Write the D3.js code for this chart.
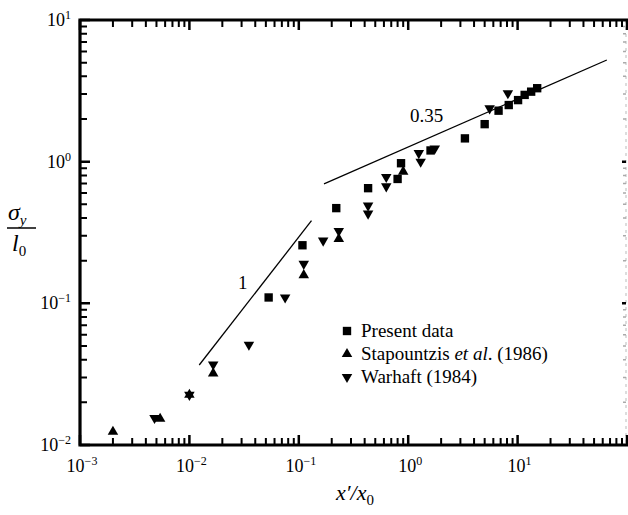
<!DOCTYPE html>
<html>
<head>
<meta charset="utf-8">
<script src="https://cdn.jsdelivr.net/npm/d3@7"></script>
<style>
  body { margin: 0; background: #fff; }
  svg, svg text, svg tspan { font-family: "Liberation Serif", "Times New Roman", serif !important; }
</style>
</head>
<body>
<div id="chart"></div>
<script>
// present data (squares)
var presentX = [0.053, 0.108, 0.22, 0.43, 0.80, 0.86, 1.6, 3.3, 5.0, 6.7, 8.3, 10.1, 11.6, 13.3, 15.1];
var presentY = [0.11, 0.257, 0.47, 0.65, 0.755, 0.975, 1.2, 1.46, 1.84, 2.29, 2.51, 2.72, 2.96, 3.12, 3.3];

// Stapountzis et al. (1986) (up triangles)
var stapX = [0.002, 0.0054, 0.01, 0.0165, 0.111, 0.232, 0.90];
var stapY = [0.0124, 0.0153, 0.0226, 0.032, 0.158, 0.285, 0.85];

// Warhaft (1984) (down triangles)
var warX = [0.0048, 0.01, 0.0165, 0.035, 0.075, 0.111, 0.167, 0.232, 0.43, 0.43, 0.63, 0.63, 1.25, 1.3, 1.75, 5.55, 8.15];
var warY = [0.0155, 0.0226, 0.037, 0.051, 0.11, 0.19, 0.277, 0.324, 0.49, 0.43, 0.78, 0.67, 1.15, 1.0, 1.24, 2.38, 3.04];

// slope lines
var slope1X = [0.0123, 0.1306];
var slope1Y = [0.0367, 0.383];
var slope035X = [0.170, 65.4];
var slope035Y = [0.697, 5.22];

var xDecades = [-3, -2, -1, 0, 1];
var yDecades = [-2, -1, 0, 1];
var legendLabels = ["Present data", "Stapountzis ", "Warhaft (1984)"];

var width = 628, height = 515;
var margin = { top: 20, right: 1, bottom: 70, left: 80 };

var svg = d3.select("#chart")
            .append("svg")
            .attr("width", width)
            .attr("height", height)
            .style("font-family", "'Liberation Serif', serif");

var x = d3.scaleLog().domain([1e-3, 1e2]).range([margin.left, width - margin.right]);
var y = d3.scaleLog().domain([1e-2, 1e1]).range([height - margin.bottom, margin.top]);

function minorTicks(lo, hi) {
  var out = [];
  for (var d = lo; d < hi; d++) {
    for (var m = 2; m <= 9; m++) out.push(m * Math.pow(10, d));
  }
  return out;
}
var xMinor = minorTicks(-3, 2), xMajor = [1e-3, 1e-2, 1e-1, 1, 10, 100];
var yMinor = minorTicks(-2, 1), yMajor = [1e-2, 1e-1, 1, 10];

// faint right side
svg.append("line").attr("x1", x(100) - 1).attr("x2", x(100) - 1).attr("y1", y(10)).attr("y2", y(1e-2))
   .attr("stroke", "#bbb").attr("stroke-width", 1).attr("stroke-dasharray", "3,4");

// frame: top, left, bottom as one open path
var frame = d3.path();
frame.moveTo(width, y(10));
frame.lineTo(x(1e-3), y(10));
frame.lineTo(x(1e-3), y(1e-2));
frame.lineTo(width, y(1e-2));
svg.append("path").attr("d", frame.toString())
   .attr("fill", "none").attr("stroke", "black").attr("stroke-width", 3.2)
   .attr("stroke-linejoin", "miter");

// ticks
function tickPath(vals, horiz, pos, len) {
  var p = d3.path();
  vals.forEach(function(v) {
    if (horiz) { p.moveTo(x(v), pos); p.lineTo(x(v), pos + len); }
    else { p.moveTo(pos, y(v)); p.lineTo(pos + len, y(v)); }
  });
  return p.toString();
}
function addTicks(vals, horiz, pos, len, w, col) {
  svg.append("path").attr("d", tickPath(vals, horiz, pos, len))
     .attr("fill", "none").attr("stroke", col || "black").attr("stroke-width", w);
}
addTicks(xMinor, true, y(1e-2), -7, 2);
addTicks(xMajor, true, y(1e-2), -10, 2.5);
addTicks(xMinor, true, y(10), 7, 2);
addTicks(xMajor, true, y(10), 10, 2.5);
addTicks(yMinor, false, x(1e-3), 7, 2);
addTicks(yMajor, false, x(1e-3), 10, 2.5);
addTicks(yMinor, false, x(100) - 1, -3, 1.5, "#aaa");
addTicks([0.1, 1], false, x(100) - 1, -4, 2.5);

function txt(px, py, size) {
  return svg.append("text").attr("x", px).attr("y", py)
            .attr("font-family", "Liberation Serif").attr("font-size", size).attr("fill", "#000");
}

function powLabel(sel, exp) {
  sel.append("tspan").text("10");
  sel.append("tspan").attr("dy", -7).attr("font-size", 12).text(exp < 0 ? "\u2212" + (-exp) : exp);
}

// x tick labels
xDecades.forEach(function(d) {
  txt(x(Math.pow(10, d)) + 2, 472, 18).attr("text-anchor", "middle").call(powLabel, d);
});

// y tick labels
yDecades.forEach(function(d) {
  txt(71, y(Math.pow(10, d)) + 6, 18).attr("text-anchor", "end").call(powLabel, d);
});

// axis titles
var xt = txt(336, 500, 22).attr("font-style", "italic");
xt.append("tspan").text("x\u2032/x");
xt.append("tspan").attr("dy", 5).attr("font-size", 15).attr("font-style", "normal").text("0");

var yt1 = txt(8, 220, 24).attr("font-style", "italic");
yt1.append("tspan").text("\u03c3");
yt1.append("tspan").attr("dy", 5).attr("font-size", 15).text("y");
svg.append("line").attr("x1", 7).attr("x2", 36).attr("y1", 228).attr("y2", 228)
   .attr("stroke", "black").attr("stroke-width", 1.5);
var yt2 = txt(12, 251, 24).attr("font-style", "italic");
yt2.append("tspan").text("l");
yt2.append("tspan").attr("dy", 5).attr("font-size", 15).attr("font-style", "normal").text("0");

// slope lines
var slopeLine = d3.line()
             .x(function(d) { return x(d[0]); })
             .y(function(d) { return y(d[1]); });

function drawLine(xs, ys) {
  svg.append("path")
     .datum(d3.zip(xs, ys))
     .attr("fill", "none")
     .attr("stroke", "#000")
     .attr("stroke-width", 1.3)
     .attr("d", slopeLine);
}
drawLine(slope1X, slope1Y);
drawLine(slope035X, slope035Y);

txt(238, 289, 19).text("1");
txt(410, 122, 19).text("0.35");

// markers
var square = d3.symbol().type(d3.symbolSquare).size(70);
var tri = d3.symbol().type(d3.symbolTriangle).size(48);

function drawPoints(xs, ys, sym, rot) {
  svg.append("g")
     .selectAll("path")
     .data(d3.zip(xs, ys))
     .enter()
     .append("path")
     .attr("d", sym)
     .attr("fill", "#000")
     .attr("transform", function(d) {
       return "translate(" + x(d[0]) + "," + y(d[1]) + ")" + (rot ? " rotate(180)" : "");
     });
}
drawPoints(presentX, presentY, square, false);
drawPoints(stapX, stapY, tri, false);
drawPoints(warX, warY, tri, true);

// legend
var lx = 347, ly = [331, 354, 377];
svg.append("path").attr("d", square).attr("transform", "translate(" + lx + "," + ly[0] + ")");
svg.append("path").attr("d", tri).attr("transform", "translate(" + lx + "," + ly[1] + ")");
svg.append("path").attr("d", tri).attr("transform", "translate(" + lx + "," + ly[2] + ") rotate(180)");

txt(361, ly[0] + 6, 19).text(legendLabels[0]);
var st = txt(361, ly[1] + 6, 19);
st.append("tspan").text(legendLabels[1]);
st.append("tspan").attr("font-style", "italic").text("et al");
st.append("tspan").text(". (1986)");
txt(361, ly[2] + 6, 19).text(legendLabels[2]);
</script>
</body>
</html>
